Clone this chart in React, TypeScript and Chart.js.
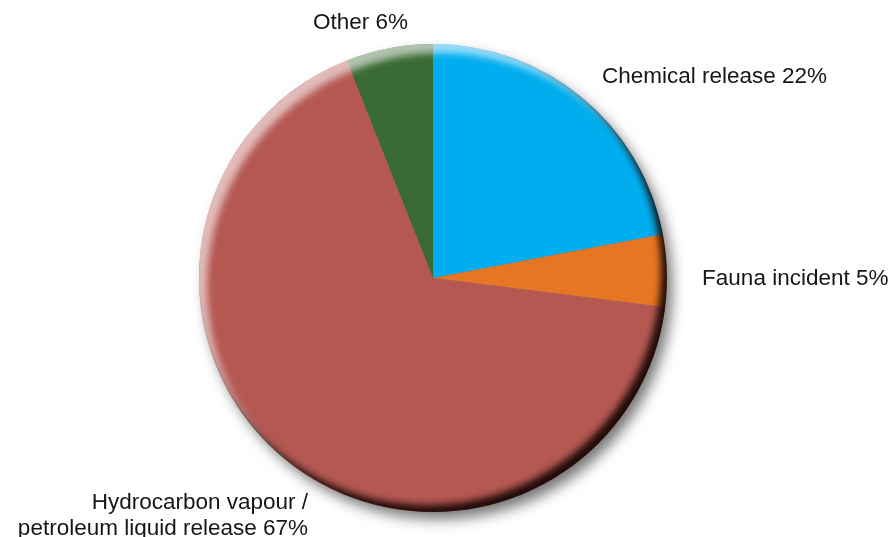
import React, { useEffect, useRef } from "react";
import { Chart, ArcElement, PieController } from "chart.js";

Chart.register(ArcElement, PieController);

// Incident categories and their share of all reported incidents (%)
const categories = [
  "Chemical release",
  "Fauna incident",
  "Hydrocarbon vapour /\npetroleum liquid release",
  "Other",
];
const shares = [22, 5, 67, 6];
const sliceColors = ["#00ADEE", "#E77624", "#B55852", "#3A6B35"];

// Where each category label sits, relative to the pie centre, in radius units
const labelPlacement: { align: CanvasTextAlign; dx: number; dy: number }[] = [
  { align: "left", dx: 0.722, dy: -0.833 },
  { align: "left", dx: 1.15, dy: 0.03 },
  { align: "right", dx: -0.534, dy: 0.987 },
  { align: "center", dx: -0.31, dy: -1.064 },
];

const FONT = '22.5px "Liberation Sans", Arial, Helvetica, sans-serif';
const LINE_HEIGHT = 26;

function pieGeometry(chart: Chart) {
  const arc: any = chart.getDatasetMeta(0).data[0];
  return { cx: arc.x as number, cy: arc.y as number, r: arc.outerRadius as number };
}

// Soft drop shadow under the disc
const dropShadow = {
  id: "dropShadow",
  beforeDatasetsDraw(chart: Chart) {
    const { ctx } = chart;
    const { cx, cy, r } = pieGeometry(chart);
    ctx.save();
    ctx.beginPath();
    ctx.arc(cx, cy, r - 1, 0, Math.PI * 2);
    ctx.shadowColor = "rgba(0,0,0,0.55)";
    ctx.shadowBlur = 14;
    ctx.shadowOffsetX = 6;
    ctx.shadowOffsetY = 8;
    ctx.fillStyle = "#777";
    ctx.fill();
    ctx.restore();
  },
};

// Inner bevel: light rim at the upper left, dark rim at the lower right
function insetRim(
  ctx: CanvasRenderingContext2D,
  cx: number,
  cy: number,
  r: number,
  color: string,
  ox: number,
  oy: number,
  blur: number
) {
  const far = 20000;
  ctx.save();
  ctx.beginPath();
  ctx.arc(cx, cy, r, 0, Math.PI * 2);
  ctx.clip();
  ctx.beginPath();
  ctx.rect(cx + far - 3 * r, cy - 3 * r, 6 * r, 6 * r);
  ctx.arc(cx + far, cy, r, 0, Math.PI * 2, true);
  ctx.shadowColor = color;
  ctx.shadowBlur = blur;
  ctx.shadowOffsetX = -far + ox;
  ctx.shadowOffsetY = oy;
  ctx.fillStyle = "#000";
  ctx.fill("evenodd");
  ctx.restore();
}

const bevel = {
  id: "bevel",
  afterDatasetsDraw(chart: Chart) {
    const { ctx } = chart;
    const { cx, cy, r } = pieGeometry(chart);
    insetRim(ctx, cx, cy, r, "rgba(255,255,255,0.6)", 8, 9, 7);
    insetRim(ctx, cx, cy, r, "rgba(25,8,6,0.95)", -6, -7, 7);
  },
};

// Category names with their percentages, placed outside the disc
const sliceLabels = {
  id: "sliceLabels",
  afterDraw(chart: Chart) {
    const { ctx } = chart;
    const { cx, cy, r } = pieGeometry(chart);
    ctx.save();
    ctx.font = FONT;
    ctx.fillStyle = "#161616";
    ctx.textBaseline = "alphabetic";
    categories.forEach((name, i) => {
      const place = labelPlacement[i];
      const lines = `${name} ${shares[i]}%`.split("\n");
      ctx.textAlign = place.align;
      const x = cx + place.dx * r;
      const y = cy + place.dy * r;
      lines.forEach((line, k) => ctx.fillText(line, x, y + k * LINE_HEIGHT));
    });
    ctx.restore();
  },
};

export default function App() {
  const canvasRef = useRef<HTMLCanvasElement | null>(null);

  useEffect(() => {
    document.body.style.margin = "0";
    const canvas = canvasRef.current;
    if (!canvas) return;
    const chart = new Chart(canvas, {
      type: "pie",
      data: {
        labels: categories,
        datasets: [
          {
            data: shares,
            backgroundColor: sliceColors,
            borderWidth: 0,
          },
        ],
      },
      options: {
        responsive: false,
        animation: false,
        devicePixelRatio: 1,
        layout: { padding: { left: 199, right: 225, top: 44, bottom: 25 } },
        plugins: {
          legend: { display: false },
          tooltip: { enabled: false },
        },
      },
      plugins: [dropShadow, bevel, sliceLabels],
    });
    return () => chart.destroy();
  }, []);

  return (
    <div style={{ width: 892, height: 537 }}>
      <canvas ref={canvasRef} width={892} height={537} />
    </div>
  );
}
